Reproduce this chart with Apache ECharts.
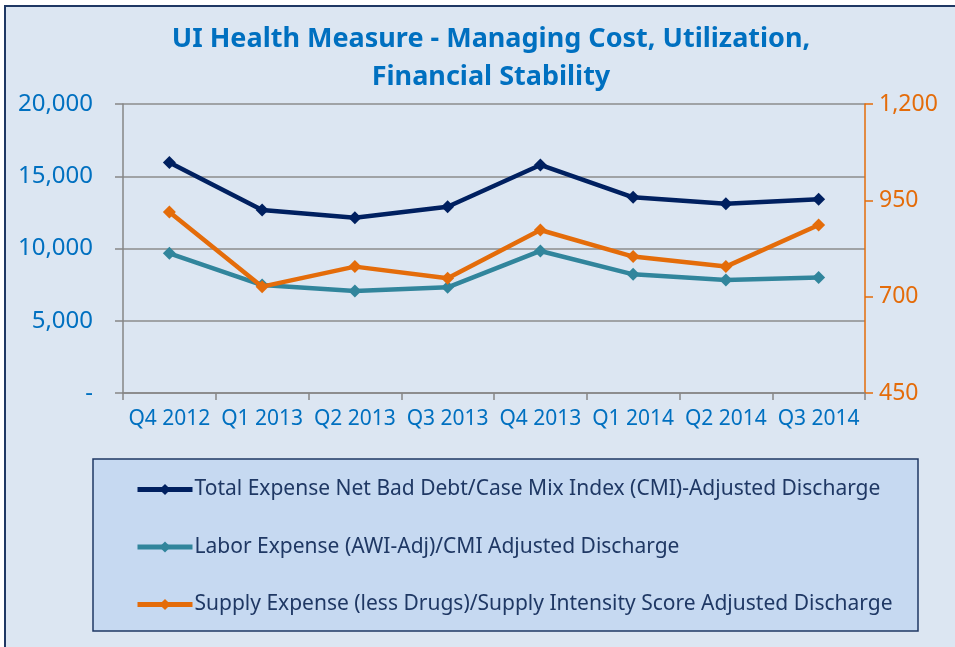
<!DOCTYPE html>
<html>
<head>
<meta charset="utf-8">
<script src="https://cdn.jsdelivr.net/npm/echarts@6/dist/echarts.min.js"></script>
<style>
  html, body { margin: 0; padding: 0; background: #ffffff; }
  #chart { width: 955px; height: 647px; }
</style>
</head>
<body>
<div id="chart"></div>
<script>
// 数据
var quarters = ['Q4 2012', 'Q1 2013', 'Q2 2013', 'Q3 2013', 'Q4 2013', 'Q1 2014', 'Q2 2014', 'Q3 2014'];
var totalExpense = [15960, 12660, 12130, 12890, 15780, 13540, 13100, 13400];
var laborExpense = [9670, 7470, 7060, 7310, 9830, 8210, 7820, 8000];
var supplyExpense = [920, 726, 778, 748, 873, 804, 778, 886];

var FONT = 'Noto Sans';
var myChart = echarts.init(document.getElementById('chart'));

var option = {
    backgroundColor: '#ffffff',
    animation: false,
    textStyle: { fontFamily: FONT },
    graphic: [
        {
            type: 'rect',
            z: -10,
            shape: { x: 5, y: 6, width: 960, height: 650 },
            style: { fill: '#dce6f2', stroke: '#1f3864', lineWidth: 2 }
        },
        {
            type: 'rect',
            z: -5,
            shape: { x: 93, y: 459, width: 825, height: 172 },
            style: { fill: '#c6d9f1', stroke: '#1f3864', lineWidth: 1.5 }
        }
    ],
    title: {
        text: 'UI Health Measure - Managing Cost, Utilization,\nFinancial Stability',
        left: 486,
        textAlign: 'center',
        top: 15,
        textStyle: {
            color: '#0070c0',
            fontFamily: FONT,
            fontWeight: 'bold',
            fontSize: 27,
            lineHeight: 38
        }
    },
    legend: {
        orient: 'vertical',
        left: 135,
        top: 479,
        padding: 0,
        itemWidth: 55,
        itemHeight: 14,
        itemGap: 36.5,
        lineStyle: { width: 5 },
        textStyle: {
            color: '#1f3864',
            fontFamily: FONT,
            fontSize: 21,
            padding: [0, 0, 0, -3]
        },
        data: [
            'Total Expense Net Bad Debt/Case Mix Index (CMI)-Adjusted Discharge',
            'Labor Expense (AWI-Adj)/CMI Adjusted Discharge',
            'Supply Expense (less Drugs)/Supply Intensity Score Adjusted Discharge'
        ]
    },
    grid: {
        left: 123,
        right: 90,
        top: 104,
        bottom: 254,
        containLabel: false
    },
    xAxis: {
        type: 'category',
        data: quarters,
        boundaryGap: true,
        axisLine: { lineStyle: { color: '#868686', width: 1.5 } },
        axisTick: { show: true, length: 7, lineStyle: { color: '#868686', width: 1.5 } },
        axisLabel: {
            color: '#0070c0',
            fontFamily: FONT,
            fontSize: 21,
            margin: 16,
            interval: 0
        }
    },
    yAxis: [
        {
            type: 'value',
            min: 0,
            max: 20000,
            interval: 5000,
            axisLine: { show: true, lineStyle: { color: '#868686', width: 1.5 } },
            axisTick: { show: true, length: 8, lineStyle: { color: '#868686', width: 1.5 } },
            splitLine: { show: true, lineStyle: { color: '#8c8c8c', width: 1.5 } },
            axisLabel: {
                color: '#0070c0',
                fontFamily: FONT,
                fontSize: 24,
                margin: 30,
                formatter: function (v) {
                    if (v === 0) return '-';
                    return v.toLocaleString('en-US');
                }
            }
        },
        {
            type: 'value',
            min: 450,
            max: 1200,
            interval: 250,
            position: 'right',
            axisLine: { show: true, lineStyle: { color: '#e46c0a', width: 1.5 } },
            axisTick: { show: true, length: 8, lineStyle: { color: '#e46c0a', width: 1.5 } },
            splitLine: { show: false },
            axisLabel: {
                color: '#e46c0a',
                fontFamily: FONT,
                fontSize: 23,
                margin: 14,
                formatter: function (v) {
                    return v.toLocaleString('en-US');
                }
            }
        }
    ],
    series: [
        {
            name: 'Total Expense Net Bad Debt/Case Mix Index (CMI)-Adjusted Discharge',
            type: 'line',
            yAxisIndex: 0,
            data: totalExpense,
            symbol: 'diamond',
            symbolSize: 13,
            lineStyle: { color: '#002060', width: 4.5 },
            itemStyle: { color: '#002060' },
            z: 3
        },
        {
            name: 'Labor Expense (AWI-Adj)/CMI Adjusted Discharge',
            type: 'line',
            yAxisIndex: 0,
            data: laborExpense,
            symbol: 'diamond',
            symbolSize: 13,
            lineStyle: { color: '#31859c', width: 4.5 },
            itemStyle: { color: '#31859c' },
            z: 2
        },
        {
            name: 'Supply Expense (less Drugs)/Supply Intensity Score Adjusted Discharge',
            type: 'line',
            yAxisIndex: 1,
            data: supplyExpense,
            symbol: 'diamond',
            symbolSize: 13,
            lineStyle: { color: '#e46c0a', width: 4.5 },
            itemStyle: { color: '#e46c0a' },
            z: 4
        }
    ]
};

option && myChart.setOption(option);
</script>
</body>
</html>
